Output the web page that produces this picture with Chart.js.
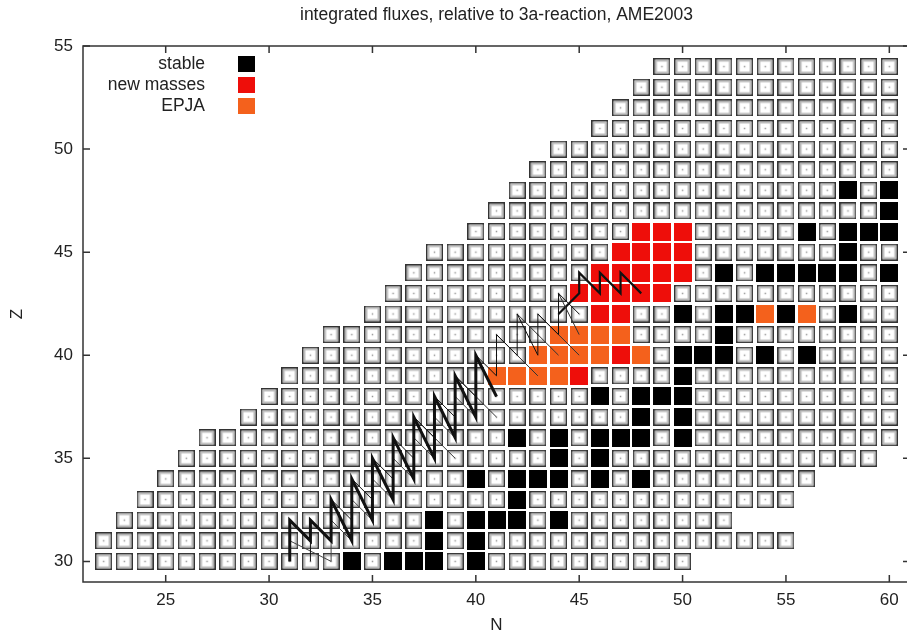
<!doctype html>
<html>
<head>
<meta charset="utf-8">
<title>integrated fluxes</title>
<script src="https://cdn.jsdelivr.net/npm/chart.js@4.4.1/dist/chart.umd.min.js"></script>
<style>
  html, body { margin: 0; padding: 0; overflow: hidden; background: #fff; }
</style>
</head>
<body>
<canvas id="canvas" width="920" height="634"></canvas>
<script>
// rows of the nuclide chart: Z and the first / last N drawn in that row
var zRows  = [30, 31, 32, 33, 34, 35, 36, 37, 38, 39, 40, 41, 42, 43, 44, 45, 46, 47, 48, 49, 50, 51, 52, 53, 54];
var nFirst = [22, 22, 23, 24, 25, 26, 27, 29, 30, 31, 32, 33, 35, 36, 37, 38, 40, 41, 42, 43, 44, 46, 47, 48, 49];
var nLast  = [50, 55, 52, 55, 56, 59, 60, 60, 60, 60, 60, 60, 60, 60, 60, 60, 60, 60, 60, 60, 60, 60, 60, 60, 60];

// marked nuclides as [N, Z]
var stable = [
  [34,30],[36,30],[37,30],[38,30],[40,30],
  [38,31],[40,31],
  [38,32],[40,32],[41,32],[42,32],[44,32],
  [42,33],
  [40,34],[42,34],[43,34],[44,34],[46,34],[48,34],
  [44,35],[46,35],
  [42,36],[44,36],[46,36],[47,36],[48,36],[50,36],
  [48,37],[50,37],
  [46,38],[48,38],[49,38],[50,38],
  [50,39],
  [50,40],[51,40],[52,40],[54,40],[56,40],
  [52,41],
  [50,42],[52,42],[53,42],[55,42],[58,42],
  [52,44],[54,44],[55,44],[56,44],[57,44],[58,44],[60,44],
  [58,45],
  [56,46],[58,46],[59,46],[60,46],
  [60,47],
  [58,48],[60,48]
];
var newMasses = [
  [45,39],[47,40],[46,42],[47,42],
  [45,43],[46,43],[47,43],[48,43],[49,43],
  [46,44],[47,44],[48,44],[49,44],[50,44],
  [47,45],[48,45],[49,45],[50,45],
  [48,46],[49,46],[50,46]
];
var epja = [
  [41,39],[42,39],[43,39],[44,39],
  [43,40],[44,40],[45,40],[46,40],[48,40],
  [44,41],[45,41],[46,41],[47,41],
  [54,42],[56,42]
];

// flux paths (N, Z of the connected nuclides); null breaks a path
var fluxMainN = [31, 31, 32, 32, 33, 33, 34, 34, 35, 35, 36, 36, 37, 37, 38, 38, 39, 39, 40, 40, 41];
var fluxMainZ = [30, 32, 31, 32, 31, 33, 31, 34, 32, 35, 33, 36, 34, 37, 35, 38, 36, 39, 37, 40, 38];
var fluxSideN = [32, 32, 33, 33, 34, 34, 35, 35, 36, 36, 37, 37, 38, 38, 39, 39, 40, 40, 41, 41, 42, 42, 43, 43, 44, 44, 45];
var fluxSideZ = [30, 32, 31, 33, 32, 34, 33, 35, 34, 36, 35, 37, 36, 38, 37, 39, 38, 40, 39, 41, 40, 42, 40, 42, 41, 43, 42];
var fluxLowN  = [31, 33, 33, 34, 34, 35, 35, 36, 36, 37, 37, 38, 38, 39, 39, 40];
var fluxLowZ  = [31, 30, 32, 31, 33, 32, 34, 33, 35, 34, 36, 35, 37, 36, 38, 37];
var fluxDiagN = [37, 39, null, 39, 41, null, 41, 43, null, 42, 44, null, 43, 45, null, 44, 45];
var fluxDiagZ = [37, 35, null, 39, 37, null, 41, 39, null, 42, 40, null, 42, 40, null, 43, 41];
var fluxTopN  = [44, 45, 45, 46, 46, 47, 47, 48];
var fluxTopZ  = [42, 43, 44, 43, 44, 43, 44, 43];

var xTicks = [25, 30, 35, 40, 45, 50, 55, 60];
var yTicks = [30, 35, 40, 45, 50, 55];

var FONT = '"Liberation Sans", Arial, sans-serif';
var TEXT = '#222';
var CELL = 17;

function makeCell(color) {
  var c = document.createElement('canvas');
  var s = color ? CELL + 1 : CELL;
  c.width = c.height = s;
  var g = c.getContext('2d');
  if (color) {
    g.fillStyle = color;
    g.fillRect(0, 0, s, s);
  } else {
    g.fillStyle = '#fff';
    g.fillRect(0, 0, s, s);
    g.strokeStyle = '#333';
    g.lineWidth = 1.5;
    g.strokeRect(0.75, 0.75, s - 1.5, s - 1.5);
    g.strokeStyle = '#bdbdbd';
    g.lineWidth = 1.5;
    g.strokeRect(2.75, 2.75, s - 5.5, s - 5.5);
    g.fillStyle = '#999';
    g.fillRect(s / 2 - 0.75, s / 2 - 0.75, 1.5, 1.5);
  }
  return c;
}

function toPoints(list) {
  return list.map(function(p) { return {x: p[0], y: p[1]}; });
}
function zip(ns, zs) {
  return ns.map(function(n, i) { return {x: n, y: zs[i]}; });
}

var marked = {};
stable.concat(newMasses, epja).forEach(function(p) { marked[p[0] + ',' + p[1]] = true; });
var plain = [];
zRows.forEach(function(z, i) {
  for (var n = nFirst[i]; n <= nLast[i]; n++) {
    if (!marked[n + ',' + z]) plain.push({x: n, y: z});
  }
});

function cellSet(label, data, color, order) {
  return {
    label: label,
    data: data,
    pointStyle: makeCell(color),
    pointRadius: 9,
    inLegend: !!color,
    legendColor: color,
    order: order
  };
}
function fluxSet(ns, zs, width, color) {
  return {
    label: 'flux',
    data: zip(ns, zs),
    showLine: true,
    borderColor: color || '#111',
    borderWidth: width,
    pointRadius: 0,
    order: 0
  };
}

var frame = {
  id: 'frame',
  afterDraw: function(chart) {
    var a = chart.chartArea, sx = chart.scales.x, sy = chart.scales.y, ctx = chart.ctx;
    var t = 7;
    ctx.save();
    ctx.strokeStyle = '#333';
    ctx.lineWidth = 1.5;
    ctx.strokeRect(a.left, a.top, a.right - a.left, a.bottom - a.top);
    ctx.beginPath();
    xTicks.forEach(function(v) {
      var p = sx.getPixelForValue(v);
      ctx.moveTo(p, a.bottom); ctx.lineTo(p, a.bottom - t);
      ctx.moveTo(p, a.top); ctx.lineTo(p, a.top + t);
    });
    yTicks.forEach(function(v) {
      var p = sy.getPixelForValue(v);
      ctx.moveTo(a.left, p); ctx.lineTo(a.left + t, p);
      ctx.moveTo(a.right, p); ctx.lineTo(a.right - t, p);
    });
    ctx.stroke();

    // key in the upper left corner
    ctx.font = '17.5px ' + FONT;
    ctx.textAlign = 'right';
    ctx.textBaseline = 'middle';
    var row = 0;
    chart.data.datasets.forEach(function(ds) {
      if (!ds.inLegend) return;
      var y = a.top + 18 + row * 21;
      ctx.fillStyle = TEXT;
      ctx.fillText(ds.label, a.left + 122, y);
      ctx.fillStyle = ds.legendColor;
      ctx.fillRect(a.left + 155, y - 8, 17, 16);
      row++;
    });
    ctx.restore();
  }
};

new Chart(document.getElementById('canvas'), {
  type: 'scatter',
  data: {
    datasets: [
      fluxSet(fluxMainN, fluxMainZ, 3),
      fluxSet(fluxSideN, fluxSideZ, 1),
      fluxSet(fluxLowN, fluxLowZ, 1, '#444'),
      fluxSet(fluxDiagN, fluxDiagZ, 1, '#333'),
      fluxSet(fluxTopN, fluxTopZ, 2.2),
      cellSet('stable', toPoints(stable), '#000000', 1),
      cellSet('new masses', toPoints(newMasses), '#ee0e0a', 1),
      cellSet('EPJA', toPoints(epja), '#f4611c', 1),
      cellSet('nuclides', plain, null, 2)
    ]
  },
  options: {
    responsive: false,
    animation: false,
    events: [],
    layout: { padding: { left: 0, right: 7.4, top: 0, bottom: 0 } },
    plugins: {
      legend: { display: false },
      tooltip: { enabled: false },
      title: {
        display: true,
        fullSize: false,
        text: 'integrated fluxes, relative to 3a-reaction, AME2003',
        color: TEXT,
        font: { family: FONT, size: 17.5, weight: 'normal', lineHeight: 1.2 },
        padding: { top: 5, bottom: 20 }
      }
    },
    scales: {
      x: {
        type: 'linear',
        min: 21,
        max: 61,
        afterBuildTicks: function(s) { s.ticks = xTicks.map(function(v) { return {value: v}; }); },
        afterFit: function(s) { s.height = 52; },
        grid: { display: false, drawTicks: false },
        border: { display: false },
        ticks: { color: TEXT, font: { family: FONT, size: 17 }, padding: 8, maxRotation: 0, autoSkip: false },
        title: { display: true, text: 'N', color: TEXT, font: { family: FONT, size: 17, lineHeight: 1 }, padding: { top: 0, bottom: 0 } }
      },
      y: {
        type: 'linear',
        min: 29,
        max: 55,
        afterBuildTicks: function(s) { s.ticks = yTicks.map(function(v) { return {value: v}; }); },
        afterFit: function(s) { s.width = 83; },
        grid: { display: false, drawTicks: false },
        border: { display: false },
        ticks: { color: TEXT, font: { family: FONT, size: 17 }, padding: 10, autoSkip: false },
        title: { display: true, text: 'Z', color: TEXT, font: { family: FONT, size: 17, lineHeight: 1 }, padding: { top: 8.5, bottom: 0 } }
      }
    }
  },
  plugins: [frame]
});
</script>
</body>
</html>
